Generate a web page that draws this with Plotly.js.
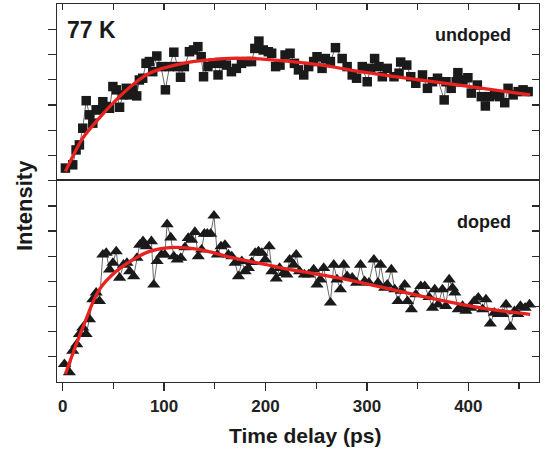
<!DOCTYPE html>
<html>
<head>
<meta charset="utf-8">
<script src="https://cdn.plot.ly/plotly-3.0.1.min.js"></script>
<style>html,body{margin:0;padding:0;background:#fff;}#chart{width:550px;height:456px;}</style>
</head>
<body>
<div id="chart"></div>
<script>
// Undoped (top panel) data
const undopedX = [2.7, 9.9, 13.2, 16.5, 19.8, 23.2, 26.4, 29.7, 33, 36.3, 39.6, 42.9, 46.2, 49.5, 52.8, 56.1, 59.4, 62.7, 66, 69.3, 73, 75.6, 78.9, 82.2, 85.5, 88.8, 92.8, 97, 101.3, 105.3, 109.6, 113.5, 116.2, 120, 125, 129, 133.3, 136.6, 138.9, 143.2, 148.2, 153.2, 156.5, 161.4, 166.4, 171.3, 176.3, 181.3, 186.2, 189.5, 193.5, 197.8, 202.8, 206.1, 210, 214.3, 219.3, 224.2, 228.5, 232.5, 237.7, 242.6, 247.5, 250.8, 255.8, 259, 264, 269, 275.6, 280.5, 285.5, 289.8, 295.4, 300.3, 303.6, 307.6, 311.9, 315.2, 320.1, 326.7, 331.7, 333.3, 339.3, 343.2, 348.2, 354.8, 359.7, 364.7, 369.6, 376.2, 378, 383.1, 388, 389.7, 394.7, 399.6, 402.9, 408.9, 412.8, 416.8, 421.1, 426, 431, 435.9, 439.2, 444.2, 449.1, 454, 459];
const undopedY = [0.50, 0.63, 1.22, 1.42, 2.08, 3.17, 2.61, 2.28, 2.81, 2.81, 3.13, 2.94, 2.87, 3.73, 3.60, 2.91, 3.40, 3.66, 3.40, 3.60, 3.36, 3.99, 4.06, 4.65, 4.72, 4.32, 4.94, 4.52, 3.60, 4.52, 5.09, 4.52, 4.10, 4.52, 5.11, 5.18, 5.31, 4.91, 4.12, 4.52, 4.65, 4.19, 4.65, 4.58, 4.32, 4.45, 4.65, 4.72, 4.72, 5.24, 5.53, 5.18, 5.11, 5.05, 4.52, 4.58, 4.98, 5.05, 4.65, 4.39, 4.19, 4.52, 4.72, 4.91, 4.45, 4.84, 4.72, 5.27, 4.84, 4.52, 4.19, 4.06, 4.52, 3.92, 4.45, 4.84, 4.52, 4.12, 4.45, 4.12, 4.26, 4.70, 4.58, 4.12, 3.86, 4.19, 3.66, 3.92, 4.06, 3.20, 3.92, 3.66, 3.92, 4.28, 3.99, 4.08, 3.47, 3.79, 3.33, 2.96, 3.33, 3.40, 3.33, 3.09, 3.66, 3.40, 3.53, 3.60, 3.53];
const undopedFitX = [2.7, 9.9, 19.8, 36.3, 52.8, 70, 85.5, 118.5, 150, 165, 200, 250, 300, 350, 400, 461];
const undopedFitY = [0.37, 0.96, 1.69, 2.49, 3.20, 3.83, 4.26, 4.65, 4.81, 4.85, 4.81, 4.61, 4.28, 4.00, 3.74, 3.40];

// Doped (bottom panel) data
const dopedX = [1.7, 6.6, 9.9, 13.9, 16.5, 19.8, 23.1, 26.4, 29.7, 33, 36.3, 39.6, 42.9, 46.2, 49.5, 52.8, 56.1, 60, 63.4, 66, 70, 73.3, 75.9, 79.2, 82.5, 87.5, 89.8, 93.1, 97.4, 100.7, 103, 106.6, 109.6, 112.9, 116.5, 120.5, 123.8, 127.1, 130.4, 133.7, 137, 139.7, 142.6, 145.9, 149.2, 152.5, 156.1, 160, 163.4, 166.7, 170, 173.3, 176.6, 179.9, 183.2, 186.5, 189.8, 193.1, 196.4, 199.7, 203.7, 206.3, 210.6, 213.9, 217.8, 221.1, 223.8, 227.7, 230.3, 233.6, 238.3, 242.6, 247.5, 250.8, 254.1, 257.4, 264, 267.3, 270.6, 273.9, 277.2, 280.5, 285.5, 289.8, 293.7, 297.7, 302, 306.9, 310.9, 313.5, 317.5, 320.1, 324.1, 327.4, 330.7, 334, 337.3, 340, 343.9, 348.2, 353.1, 357, 361.3, 364.6, 366.9, 370.2, 374.5, 377.8, 381.1, 384.4, 386.7, 390, 394.3, 397.6, 402.5, 405.8, 409.8, 414.1, 417.4, 421.7, 425.7, 429.6, 433.9, 437.2, 441.5, 445.5, 448.8, 451.4, 456, 460.3];
const dopedY = [0.71, 0.38, 1.24, 1.50, 1.90, 2.16, 1.90, 2.49, 3.28, 3.55, 3.21, 5.06, 5.13, 4.47, 4.73, 5.19, 4.14, 4.66, 4.73, 4.40, 4.20, 4.93, 5.45, 5.59, 5.39, 5.59, 3.87, 4.80, 5.06, 5.06, 6.27, 5.74, 4.99, 4.86, 4.93, 5.35, 5.72, 5.65, 5.96, 4.99, 5.26, 5.89, 5.89, 5.89, 6.61, 5.06, 5.39, 5.45, 5.06, 4.99, 4.73, 4.20, 4.80, 4.40, 4.53, 4.76, 5.13, 5.19, 5.13, 4.86, 5.39, 4.40, 4.11, 4.53, 4.33, 4.27, 4.86, 4.66, 5.06, 4.40, 4.27, 4.27, 4.47, 3.87, 4.07, 4.53, 3.15, 4.66, 4.07, 3.68, 4.66, 4.20, 4.14, 3.94, 4.66, 4.00, 3.94, 4.86, 3.94, 4.66, 3.74, 3.87, 4.47, 3.68, 3.21, 3.62, 3.87, 3.21, 2.89, 3.48, 3.81, 3.81, 3.37, 2.95, 3.68, 3.08, 3.68, 3.02, 4.07, 3.74, 3.55, 2.89, 3.02, 2.83, 2.95, 3.21, 3.35, 2.89, 3.28, 2.32, 2.75, 2.70, 2.70, 3.08, 2.19, 2.81, 2.70, 3.02, 2.95, 3.08];
const dopedFitX = [2.7, 19.8, 36.3, 52.8, 69.3, 85.8, 108.9, 135.3, 168.3, 201.3, 214, 280.5, 346, 412, 461];
const dopedFitY = [0.32, 2.16, 3.68, 4.40, 4.86, 5.19, 5.35, 5.26, 4.93, 4.66, 4.55, 4.07, 3.48, 2.95, 2.69];

const xTickVals = [0, 100, 200, 300, 400];
const xTickText = ['0', '100', '200', '300', '400'];
const topTickVals = [0, 50, 100, 150, 200, 250, 300, 350, 400, 450];
const topYTicks = [1, 2, 3, 4, 5, 6];
const bottomYTicks = [1, 2, 3, 4, 5, 6, 7, 8];

const labels = {panelTop: 'undoped', panelBottom: 'doped', temp: '77 K', xTitle: 'Time delay (ps)', yTitle: 'Intensity'};

const AX = '#2b2b2b';
const RED = '#e8231f';
const FONT = 'Liberation Sans, Arial, sans-serif';

const traces = [
  {x: undopedX, y: undopedY, xaxis: 'x2', yaxis: 'y2', type: 'scatter', mode: 'lines+markers',
   line: {color: '#444', width: 0.8}, marker: {symbol: 'square', size: 9.5, color: '#1a1a1a'}, cliponaxis: false},
  {x: undopedFitX, y: undopedFitY, xaxis: 'x2', yaxis: 'y2', type: 'scatter', mode: 'lines',
   line: {color: RED, width: 3.3, shape: 'spline', smoothing: 1}},
  {x: dopedX, y: dopedY, xaxis: 'x', yaxis: 'y', type: 'scatter', mode: 'lines+markers',
   line: {color: '#444', width: 0.8}, marker: {symbol: 'triangle-up', size: 11.5, color: '#1a1a1a'}, cliponaxis: false},
  {x: dopedFitX, y: dopedFitY, xaxis: 'x', yaxis: 'y', type: 'scatter', mode: 'lines',
   line: {color: RED, width: 3.3, shape: 'spline', smoothing: 1}},
  {x: [], y: [], xaxis: 'x', yaxis: 'y3', type: 'scatter', mode: 'markers', hoverinfo: 'skip'},
  {x: [], y: [], xaxis: 'x2', yaxis: 'y4', type: 'scatter', mode: 'markers', hoverinfo: 'skip'}
];

const XR = [-5.6, 469.7];
const SPLIT = 0.5325;
const common = {showgrid: false, zeroline: false, linecolor: AX, linewidth: 1.3, tickcolor: AX, tickwidth: 1.3};

const layout = {
  width: 550, height: 456,
  margin: {l: 57, r: 11, t: 4, b: 74},
  paper_bgcolor: '#fff', plot_bgcolor: '#fff',
  showlegend: false,
  font: {family: FONT, color: '#222', weight: 'bold'},
  xaxis: Object.assign({}, common, {anchor: 'y', domain: [0, 1], range: XR, showline: true, mirror: true,
    tickmode: 'array', tickvals: xTickVals, ticktext: xTickText, ticks: 'outside', ticklen: 8,
    minor: {tickvals: [50, 150, 250, 350, 450], ticks: 'outside', ticklen: 6, tickcolor: AX, tickwidth: 1.3},
    tickfont: {family: FONT, size: 17, color: '#222', weight: 'bold'}}),
  xaxis2: Object.assign({}, common, {anchor: 'y2', domain: [0, 1], range: XR, side: 'top', showline: true, mirror: false,
    tickmode: 'array', tickvals: topTickVals, ticks: 'inside', ticklen: 6, showticklabels: false}),
  yaxis: Object.assign({}, common, {anchor: 'x', domain: [0, SPLIT], range: [0, 8], showline: true, mirror: true,
    tickmode: 'array', tickvals: bottomYTicks, ticks: 'outside', ticklen: 8, showticklabels: false}),
  yaxis2: Object.assign({}, common, {anchor: 'x2', domain: [SPLIT, 1], range: [0, 7], showline: true, mirror: true,
    tickmode: 'array', tickvals: topYTicks, ticks: 'outside', ticklen: 8, showticklabels: false}),
  yaxis3: Object.assign({}, common, {overlaying: 'y', anchor: 'x', side: 'right', range: [0, 8], showline: false,
    tickmode: 'array', tickvals: bottomYTicks, ticks: 'inside', ticklen: 7, showticklabels: false}),
  yaxis4: Object.assign({}, common, {overlaying: 'y2', anchor: 'x2', side: 'right', range: [0, 7], showline: false,
    tickmode: 'array', tickvals: topYTicks, ticks: 'inside', ticklen: 7, showticklabels: false}),
  annotations: [
    {text: labels.temp, xref: 'paper', yref: 'paper', x: 0.0166, y: 0.931, xanchor: 'left', yanchor: 'middle', showarrow: false,
     font: {family: FONT, size: 23, color: '#1a1a1a', weight: 'bold'}},
    {text: labels.panelTop, xref: 'paper', yref: 'paper', x: 0.9467, y: 0.9167, xanchor: 'right', yanchor: 'middle', showarrow: false,
     font: {family: FONT, size: 18, color: '#1a1a1a', weight: 'bold'}},
    {text: labels.panelBottom, xref: 'paper', yref: 'paper', x: 0.9467, y: 0.424, xanchor: 'right', yanchor: 'middle', showarrow: false,
     font: {family: FONT, size: 18, color: '#1a1a1a', weight: 'bold'}},
    {text: labels.yTitle, xref: 'paper', yref: 'paper', x: -0.0685, y: 0.468, xanchor: 'center', yanchor: 'middle', textangle: -90, showarrow: false,
     font: {family: FONT, size: 22, color: '#1a1a1a', weight: 'bold'}},
    {text: labels.xTitle, xref: 'paper', yref: 'paper', x: 0.516, y: -0.1423, xanchor: 'center', yanchor: 'middle', showarrow: false,
     font: {family: FONT, size: 21, color: '#1a1a1a', weight: 'bold'}}
  ]
};

Plotly.newPlot('chart', traces, layout, {staticPlot: true, displayModeBar: false});
</script>
</body>
</html>
